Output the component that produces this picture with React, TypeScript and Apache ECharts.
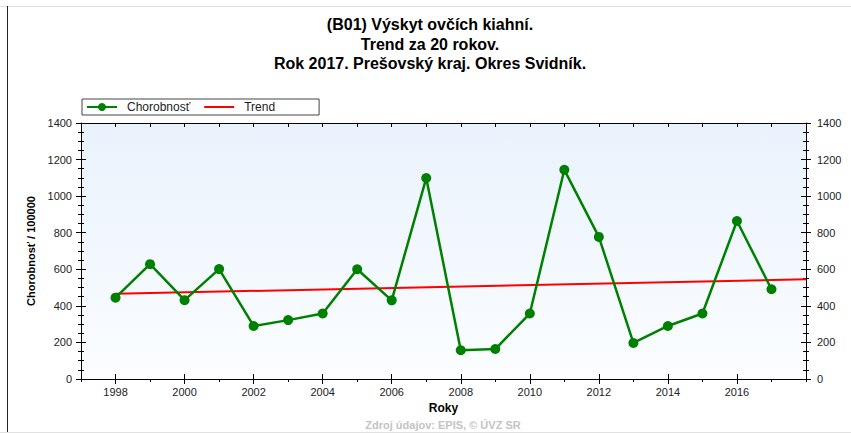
import React, { useEffect, useRef } from "react";
import * as echarts from "echarts";

const titleLines = [
  "(B01) Výskyt ovčích kiahní.",
  "Trend za 20 rokov.",
  "Rok 2017. Prešovský kraj. Okres Svidník.",
];
const years = [1998, 1999, 2000, 2001, 2002, 2003, 2004, 2005, 2006, 2007, 2008, 2009, 2010, 2011, 2012, 2013, 2014, 2015, 2016, 2017];
const chorobnost = [445, 628, 431, 601, 290, 322, 358, 600, 430, 1099, 157, 164, 358, 1144, 777, 197, 290, 358, 864, 491];
const trendYears = [1998, 2018];
const trendValues = [466, 545];
const evenYearTicks = [1998, 2000, 2002, 2004, 2006, 2008, 2010, 2012, 2014, 2016];
const seriesNames = ["Chorobnosť", "Trend"];
const yAxisName = "Chorobnosť / 100000";
const xAxisName = "Roky";
const footer = "Zdroj údajov: EPIS, © ÚVZ SR";

const FONT = "Arial, 'Liberation Sans', sans-serif";

export default function App() {
  const ref = useRef<HTMLDivElement>(null);
  useEffect(() => {
    if (!ref.current) return;
    const chart = echarts.init(ref.current, undefined, { renderer: "svg" });
    const labelStyle = { color: "#222", fontSize: 11, fontFamily: FONT };
    const yBase = {
      type: "value" as const,
      min: 0,
      max: 1400,
      interval: 200,
      splitLine: { show: false },
      axisLine: { show: true, lineStyle: { color: "#000", width: 1 } },
      minorTick: { show: true, splitNumber: 4, length: 3, lineStyle: { color: "#000" } },
      axisTick: { show: true, length: 5, lineStyle: { color: "#000" } },
    };
    const xBase = {
      type: "value" as const,
      min: 1997,
      max: 2018,
      interval: 1,
      splitLine: { show: false },
      axisLine: { show: true, onZero: false, lineStyle: { color: "#000", width: 1 } },
    };
    chart.setOption({
      animation: false,
      backgroundColor: "#fff",
      grid: {
        left: 81,
        right: 45,
        top: 123,
        bottom: 55,
        show: true,
        borderWidth: 0,
        backgroundColor: new echarts.graphic.LinearGradient(0, 0, 0, 1, [
          { offset: 0, color: "#e9f2fc" },
          { offset: 1, color: "#fbfdff" },
        ]),
      },
      legend: {
        left: 82,
        top: 99,
        data: [
          { name: seriesNames[0] },
          { name: seriesNames[1], icon: "path://M0,0 L30,0 L30,2 L0,2 Z" },
        ],
        backgroundColor: "#fff",
        borderColor: "#444",
        borderWidth: 1,
        borderRadius: 0,
        padding: [2, 44, 2, 4],
        itemWidth: 30,
        itemHeight: 10,
        itemGap: 14,
        textStyle: { fontSize: 12, color: "#222", fontFamily: FONT, padding: [0, 0, 0, 5] },
      },
      xAxis: [
        {
          ...xBase,
          position: "bottom",
          name: xAxisName,
          nameLocation: "middle",
          nameGap: 22,
          nameTextStyle: { fontWeight: "bold", fontSize: 12, color: "#000", fontFamily: FONT },
          axisTick: { show: true, length: 3, lineStyle: { color: "#000" } },
          axisLabel: {
            ...labelStyle,
            margin: 7,
            customValues: evenYearTicks,
            formatter: (v: number) => String(v),
          },
        },
        {
          ...xBase,
          position: "bottom",
          axisLine: { show: false },
          axisTick: { show: true, inside: true, length: 5, customValues: evenYearTicks, lineStyle: { color: "#000" } },
          axisLabel: { show: false },
        },
        {
          ...xBase,
          position: "bottom",
          axisLine: { show: false },
          axisTick: { show: true, length: 5, customValues: evenYearTicks, lineStyle: { color: "#000" } },
          axisLabel: { show: false },
        },
        {
          ...xBase,
          position: "top",
          axisTick: { show: true, inside: true, length: 4, lineStyle: { color: "#000" } },
          axisLabel: { show: false },
        },
      ],
      yAxis: [
        {
          ...yBase,
          position: "left",
          name: yAxisName,
          nameLocation: "middle",
          nameGap: 33,
          nameTextStyle: { fontWeight: "bold", fontSize: 11, color: "#000", fontFamily: FONT },
          axisLabel: { ...labelStyle, margin: 9, formatter: (v: number) => String(v) },
        },
        {
          ...yBase,
          position: "right",
          axisLabel: { ...labelStyle, margin: 11, formatter: (v: number) => String(v) },
        },
        {
          ...yBase,
          position: "left",
          axisLine: { show: false },
          axisTick: { ...yBase.axisTick, inside: true },
          axisLabel: { show: false },
        },
        {
          ...yBase,
          position: "right",
          axisLine: { show: false },
          axisTick: { ...yBase.axisTick, inside: true },
          axisLabel: { show: false },
        },
      ],
      series: [
        {
          name: seriesNames[0],
          type: "line",
          xAxisIndex: 0,
          yAxisIndex: 0,
          data: years.map((y, i) => [y, chorobnost[i]]),
          symbol: "circle",
          symbolSize: 10,
          lineStyle: { color: "#008000", width: 2.5 },
          itemStyle: { color: "#008000" },
          z: 3,
        },
        {
          name: seriesNames[1],
          type: "line",
          xAxisIndex: 0,
          yAxisIndex: 0,
          data: trendYears.map((y, i) => [y, trendValues[i]]),
          symbol: "none",
          lineStyle: { color: "#ff0000", width: 2 },
          itemStyle: { color: "#ff0000" },
          z: 2,
        },
      ],
      graphic: [
        {
          type: "text",
          x: 430,
          y: 15,
          style: {
            text: titleLines.join("\n"),
            textAlign: "center",
            textVerticalAlign: "top",
            fill: "#000",
            font: `bold 16px ${FONT}`,
            lineHeight: 19.5,
          },
        },
        {
          type: "text",
          x: 443,
          y: 419,
          style: {
            text: footer,
            textAlign: "center",
            fill: "#c4c4c4",
            font: `bold 11px ${FONT}`,
          },
        },
        { type: "line", shape: { x1: 0, y1: 6.5, x2: 851, y2: 6.5 }, style: { stroke: "#e0e0e0", lineWidth: 1 } },
        { type: "line", shape: { x1: 0, y1: 432.5, x2: 851, y2: 432.5 }, style: { stroke: "#e0e0e0", lineWidth: 1 } },
        { type: "line", shape: { x1: 7.5, y1: 6, x2: 7.5, y2: 432 }, style: { stroke: "#222", lineWidth: 1 } },
      ],
    });
    return () => chart.dispose();
  }, []);
  return (
    <div
      ref={ref}
      style={{ position: "fixed", left: 0, top: 0, width: 851, height: 434 }}
    />
  );
}
